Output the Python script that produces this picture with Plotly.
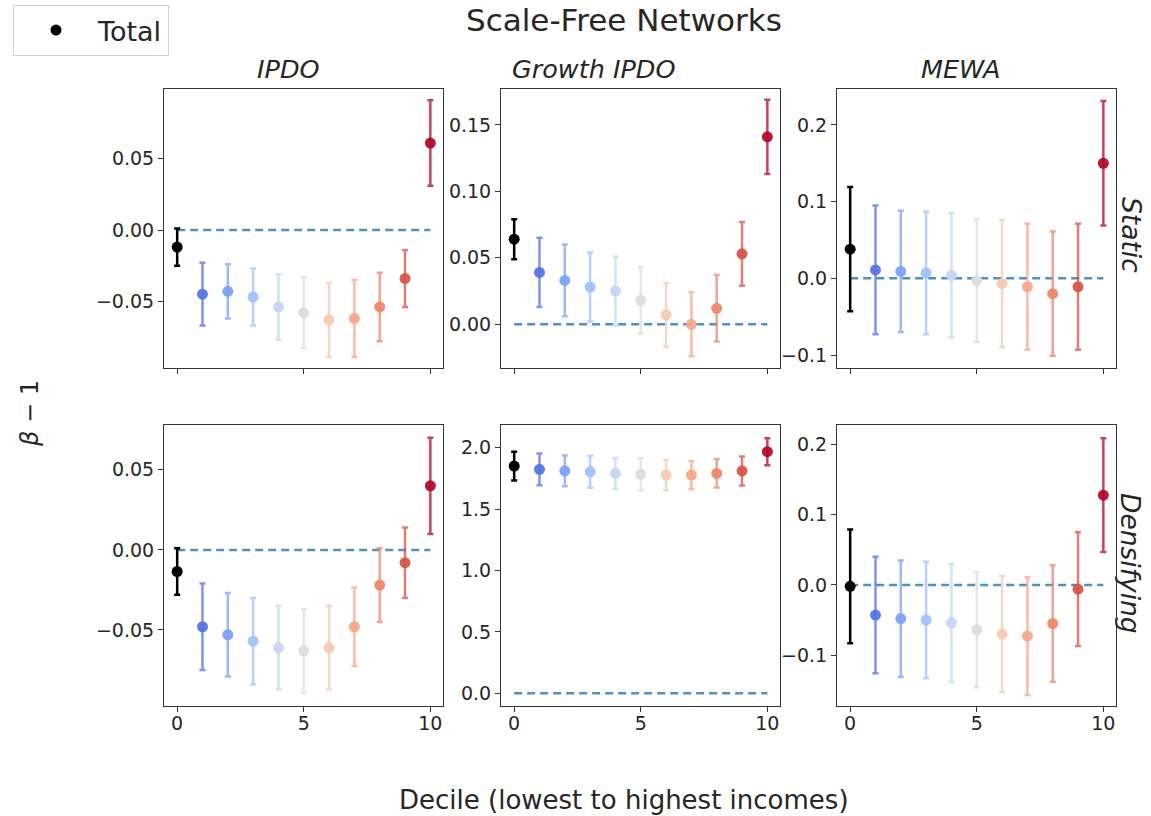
import plotly.graph_objects as go

# ---------------- data ----------------
deciles = [0, 1, 2, 3, 4, 5, 6, 7, 8, 9, 10]   # 0 = Total

ipdo_static_mean = [-0.012, -0.045, -0.043, -0.047, -0.054, -0.058, -0.063, -0.062, -0.054, -0.034, 0.061]
ipdo_static_err = [0.013, 0.022, 0.019, 0.020, 0.023, 0.025, 0.026, 0.027, 0.024, 0.020, 0.030]

growth_static_mean = [0.064, 0.039, 0.033, 0.028, 0.025, 0.018, 0.007, 0.000, 0.012, 0.053, 0.141]
growth_static_err = [0.015, 0.026, 0.027, 0.026, 0.026, 0.025, 0.024, 0.024, 0.025, 0.024, 0.028]

mewa_static_mean = [0.038, 0.011, 0.009, 0.007, 0.004, -0.003, -0.007, -0.011, -0.020, -0.011, 0.150]
mewa_static_err = [0.081, 0.084, 0.079, 0.080, 0.081, 0.080, 0.083, 0.082, 0.081, 0.082, 0.081]

ipdo_dens_mean = [-0.0135, -0.048, -0.053, -0.057, -0.061, -0.063, -0.061, -0.048, -0.022, -0.008, 0.040]
ipdo_dens_err = [0.0145, 0.027, 0.026, 0.027, 0.026, 0.026, 0.026, 0.0245, 0.023, 0.022, 0.030]

growth_dens_mean = [1.85, 1.823, 1.81, 1.804, 1.79, 1.783, 1.777, 1.777, 1.79, 1.81, 1.967]
growth_dens_err = [0.117, 0.13, 0.125, 0.13, 0.125, 0.13, 0.122, 0.115, 0.115, 0.118, 0.11]

mewa_dens_mean = [-0.002, -0.043, -0.048, -0.050, -0.054, -0.064, -0.070, -0.073, -0.055, -0.006, 0.128]
mewa_dens_err = [0.081, 0.083, 0.083, 0.083, 0.084, 0.082, 0.083, 0.084, 0.083, 0.081, 0.081]

col_titles = ["IPDO", "Growth IPDO", "MEWA"]
row_titles = ["Static", "Densifying"]

point_colors = ["#000000", "#5572df", "#7da0f9", "#a0c0fd", "#c4d5f3", "#dddcdc",
                "#f2cab5", "#f7a688", "#ec8669", "#d65244", "#b40426"]

y_ranges = [[-0.0968, 0.0989], [-0.0329, 0.177], [-0.1169, 0.2468],
            [-0.0975, 0.078], [-0.103, 2.184], [-0.1726, 0.228]]
y_dticks = [0.05, 0.05, 0.1, 0.05, 0.5, 0.1]
y_formats = [".2f", ".2f", ".1f", ".2f", ".1f", ".1f"]

panels = [(ipdo_static_mean, ipdo_static_err), (growth_static_mean, growth_static_err),
          (mewa_static_mean, mewa_static_err), (ipdo_dens_mean, ipdo_dens_err),
          (growth_dens_mean, growth_dens_err), (mewa_dens_mean, mewa_dens_err)]

# ---------------- layout geometry ----------------
W, H = 1151, 816
x_doms = [[164 / W, 443 / W], [501 / W, 780 / W], [837 / W, 1116 / W]]
y_doms = [[1 - 368 / H, 1 - 89 / H], [1 - 706 / H, 1 - 425 / H]]
col_title_x = [289 / W, 594 / W, 961 / W]
row_title_y = [1 - 235 / H, 1 - 563 / H]

FONT = "DejaVu Sans"
TXT = "#262626"


def hex_rgba(h, a):
    h = h.lstrip("#")
    r, g, b = int(h[0:2], 16), int(h[2:4], 16), int(h[4:6], 16)
    return f"rgba({r},{g},{b},{a})"


fig = go.Figure()
layout = {}
for p, (mean, err) in enumerate(panels):
    row, col = divmod(p, 3)
    idx = p + 1
    xa = "x" if idx == 1 else f"x{idx}"
    ya = "y" if idx == 1 else f"y{idx}"
    # reference line at zero
    fig.add_trace(go.Scatter(x=[deciles[0], deciles[-1]], y=[0, 0], mode="lines",
                             line=dict(color="rgba(31,119,180,0.8)", width=2.5, dash="8px,5px"),
                             xaxis=xa, yaxis=ya, showlegend=False, hoverinfo="skip"))
    for i, d in enumerate(deciles):
        c = point_colors[i]
        alpha_e = 1.0 if i == 0 else 0.75
        alpha_m = 1.0 if i == 0 else 0.92
        fig.add_trace(go.Scatter(
            x=[d], y=[mean[i]], mode="markers",
            marker=dict(color=hex_rgba(c, alpha_m), size=11, line=dict(width=0)),
            error_y=dict(type="data", array=[err[i]], visible=True,
                         color=hex_rgba(c, alpha_e), thickness=2.5, width=3),
            xaxis=xa, yaxis=ya,
            name="Total" if i == 0 else f"Decile {d}",
            showlegend=(p == 0 and i == 0)))
    axis_common = dict(showline=True, linecolor="#333333", linewidth=1, mirror=True,
                       ticks="outside", ticklen=5, tickcolor="#333333", showgrid=False,
                       zeroline=False, tickfont=dict(family=FONT, size=19, color=TXT))
    layout["xaxis" if idx == 1 else f"xaxis{idx}"] = dict(
        domain=x_doms[col], anchor=ya, range=[-0.52, 10.5], tickvals=[0, 5, 10],
        showticklabels=(row == 1), ticklabelstandoff=-5, **axis_common)
    layout["yaxis" if idx == 1 else f"yaxis{idx}"] = dict(
        domain=y_doms[row], anchor=xa, range=y_ranges[p], dtick=y_dticks[p], tick0=0,
        tickformat=y_formats[p], **axis_common)

annotations = []
annotations.append(dict(text="Scale-Free Networks", x=624 / W, y=1 - 20 / H, xref="paper", yref="paper",
                        showarrow=False, font=dict(family=FONT, size=31, color=TXT),
                        xanchor="center", yanchor="middle"))
for c, t in enumerate(col_titles):
    annotations.append(dict(text=f"<i>{t}</i>", x=col_title_x[c], y=1 - 69 / H,
                            xref="paper", yref="paper", showarrow=False,
                            font=dict(family=FONT, size=25.5, color=TXT),
                            xanchor="center", yanchor="middle"))
for r, t in enumerate(row_titles):
    annotations.append(dict(text=f"<i>{t}</i>", x=1131 / W, y=row_title_y[r],
                            xref="paper", yref="paper", showarrow=False, textangle=90,
                            font=dict(family=FONT, size=26.5, color=TXT),
                            xanchor="center", yanchor="middle"))
annotations.append(dict(text="<i>β</i> − 1", x=30 / W, y=1 - 413 / H, xref="paper", yref="paper",
                        showarrow=False, textangle=-90,
                        font=dict(family=FONT, size=24, color=TXT),
                        xanchor="center", yanchor="middle"))
annotations.append(dict(text="Decile (lowest to highest incomes)", x=624 / W, y=1 - 800 / H,
                        xref="paper", yref="paper", showarrow=False,
                        font=dict(family=FONT, size=26, color=TXT),
                        xanchor="center", yanchor="middle"))

fig.update_layout(
    width=W, height=H, autosize=False,
    margin=dict(l=0, r=0, t=0, b=0),
    paper_bgcolor="white", plot_bgcolor="white",
    annotations=annotations,
    legend=dict(x=13 / W, y=1 - 5 / H, xanchor="left", yanchor="top",
                bordercolor="#d0d0d0", borderwidth=1, bgcolor="white",
                font=dict(family=FONT, size=27, color=TXT), itemwidth=74),
    **layout)

fig.write_html("out.html")
